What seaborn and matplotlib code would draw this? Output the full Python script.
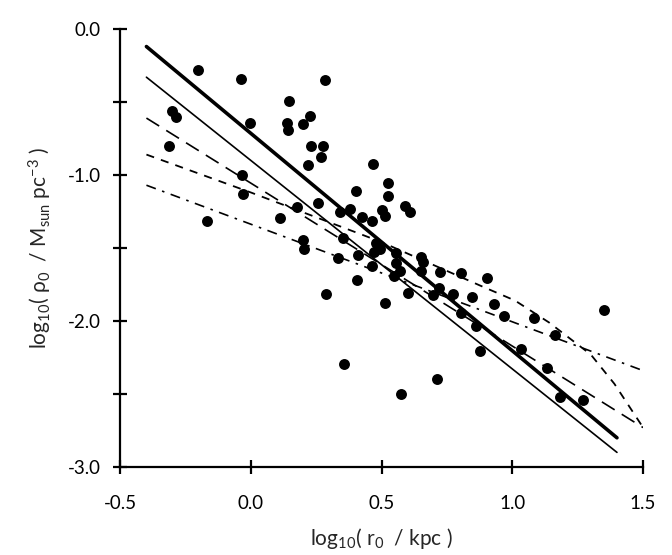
import numpy as np
import pandas as pd
import matplotlib
matplotlib.use("Agg")
import matplotlib.pyplot as plt
from matplotlib.ticker import MultipleLocator
import seaborn as sns

# observed haloes: log10 r0 [kpc], log10 rho0 [Msun pc^-3]
log_r0 = [-0.202, -0.039, 0.284, 0.144, -0.304, -0.287, -0.005, 0.139, 0.141, 0.199,
          0.227, -0.314, 0.230, 0.276, 0.267, 0.218, 0.465, -0.034, -0.032, 0.524,
          0.524, 0.400, 0.175, 0.256, 0.591, 0.607, 0.503, 0.514, 0.342, 0.380,
          0.425, 0.464, -0.169, 0.111, 0.199, 0.203, 0.352, 0.333, 0.411, 0.470,
          0.494, 0.480, 0.464, 0.406, 0.553, 0.553, 0.569, 0.546, 0.600, 0.652,
          0.658, 0.652, 0.723, 0.802, 0.719, 0.698, 0.774, 0.802, 0.288, 0.511,
          0.355, 0.713, 0.575, 0.902, 0.847, 0.930, 0.966, 1.083, 1.163, 0.860,
          0.876, 1.032, 1.132, 1.183, 1.269, 1.352]
log_rho0 = [-0.281, -0.342, -0.349, -0.491, -0.562, -0.603, -0.644, -0.647, -0.692, -0.651,
            -0.596, -0.801, -0.801, -0.801, -0.877, -0.932, -0.925, -0.997, -1.127, -1.053,
            -1.147, -1.110, -1.219, -1.192, -1.209, -1.251, -1.240, -1.281, -1.253, -1.233,
            -1.291, -1.312, -1.313, -1.292, -1.443, -1.507, -1.432, -1.566, -1.545, -1.527,
            -1.505, -1.464, -1.623, -1.719, -1.532, -1.605, -1.658, -1.692, -1.806, -1.560,
            -1.594, -1.658, -1.662, -1.671, -1.776, -1.822, -1.815, -1.947, -1.815, -1.875,
            -2.295, -2.397, -2.500, -1.703, -1.834, -1.886, -1.966, -1.977, -2.096, -2.034,
            -2.203, -2.194, -2.320, -2.518, -2.541, -1.925]

# fit / model curves
fit_thick_x = [-0.40, 1.40]
fit_thick_y = [-0.12, -2.80]
fit_thin_x = [-0.40, 1.40]
fit_thin_y = [-0.33, -2.90]
long_dash_x = [-0.40, 1.50]
long_dash_y = [-0.61, -2.73]
short_dash_x = [-0.40, 0.00, 0.50, 0.88, 1.01, 1.14, 1.22, 1.30, 1.39, 1.50]
short_dash_y = [-0.86, -1.12, -1.46, -1.76, -1.86, -2.01, -2.12, -2.23, -2.43, -2.73]
dash_dot_x = [-0.40, 1.50]
dash_dot_y = [-1.07, -2.34]

sns.set_style("ticks")
plt.rcParams['font.family'] = ['Lato', 'DejaVu Sans']
plt.rcParams['mathtext.fontset'] = 'custom'
plt.rcParams['mathtext.rm'] = 'Lato'
plt.rcParams['mathtext.it'] = 'Lato'

fig = plt.figure(figsize=(6.72, 5.55), dpi=100)
ax = fig.add_axes([0.179, 0.1586, 0.778, 0.7891])

sns.lineplot(x=fit_thick_x, y=fit_thick_y, ax=ax, color="black", lw=2.6)
sns.lineplot(x=fit_thin_x, y=fit_thin_y, ax=ax, color="black", lw=1.2)
sns.lineplot(x=long_dash_x, y=long_dash_y, ax=ax, color="black", lw=1.2)
ax.lines[-1].set_dashes([9, 5])
sns.lineplot(x=short_dash_x, y=short_dash_y, ax=ax, color="black", lw=1.3, sort=False)
ax.lines[-1].set_dashes([4.5, 4])
sns.lineplot(x=dash_dot_x, y=dash_dot_y, ax=ax, color="black", lw=1.2)
ax.lines[-1].set_dashes([6, 4, 1.5, 4])

sns.scatterplot(x=log_r0, y=log_rho0, ax=ax, color="black", s=62, edgecolor="black",
                linewidth=0, zorder=5)

ax.set_xlim(-0.5, 1.5)
ax.set_ylim(-3.0, 0.0)
ax.xaxis.set_major_locator(MultipleLocator(0.5))
ax.yaxis.set_major_locator(MultipleLocator(1.0))
ax.yaxis.set_minor_locator(MultipleLocator(0.5))
ax.xaxis.set_major_formatter(plt.FuncFormatter(lambda v, p: f"{v:.1f}"))
ax.yaxis.set_major_formatter(plt.FuncFormatter(lambda v, p: f"{v:.1f}"))

for side in ["top", "right"]:
    ax.spines[side].set_visible(False)
for side in ["left", "bottom"]:
    ax.spines[side].set_linewidth(1.6)
    ax.spines[side].set_color("black")

ax.tick_params(axis="x", which="major", direction="inout", length=10, width=1.6,
               pad=15, labelsize=13.5, colors="black")
ax.tick_params(axis="y", which="both", direction="inout", length=10, width=1.6,
               pad=9, labelsize=13.5, colors="black")

ax.set_xlabel(r"log$_{10}$( r$_0$  / kpc )", fontsize=15, labelpad=10)
ax.set_ylabel(r"log$_{10}$( ρ$_0$  / M$_{\rm sun}$ pc$^{-3}$ )", fontsize=15, labelpad=10)

fig.savefig("out.png", dpi=100)
